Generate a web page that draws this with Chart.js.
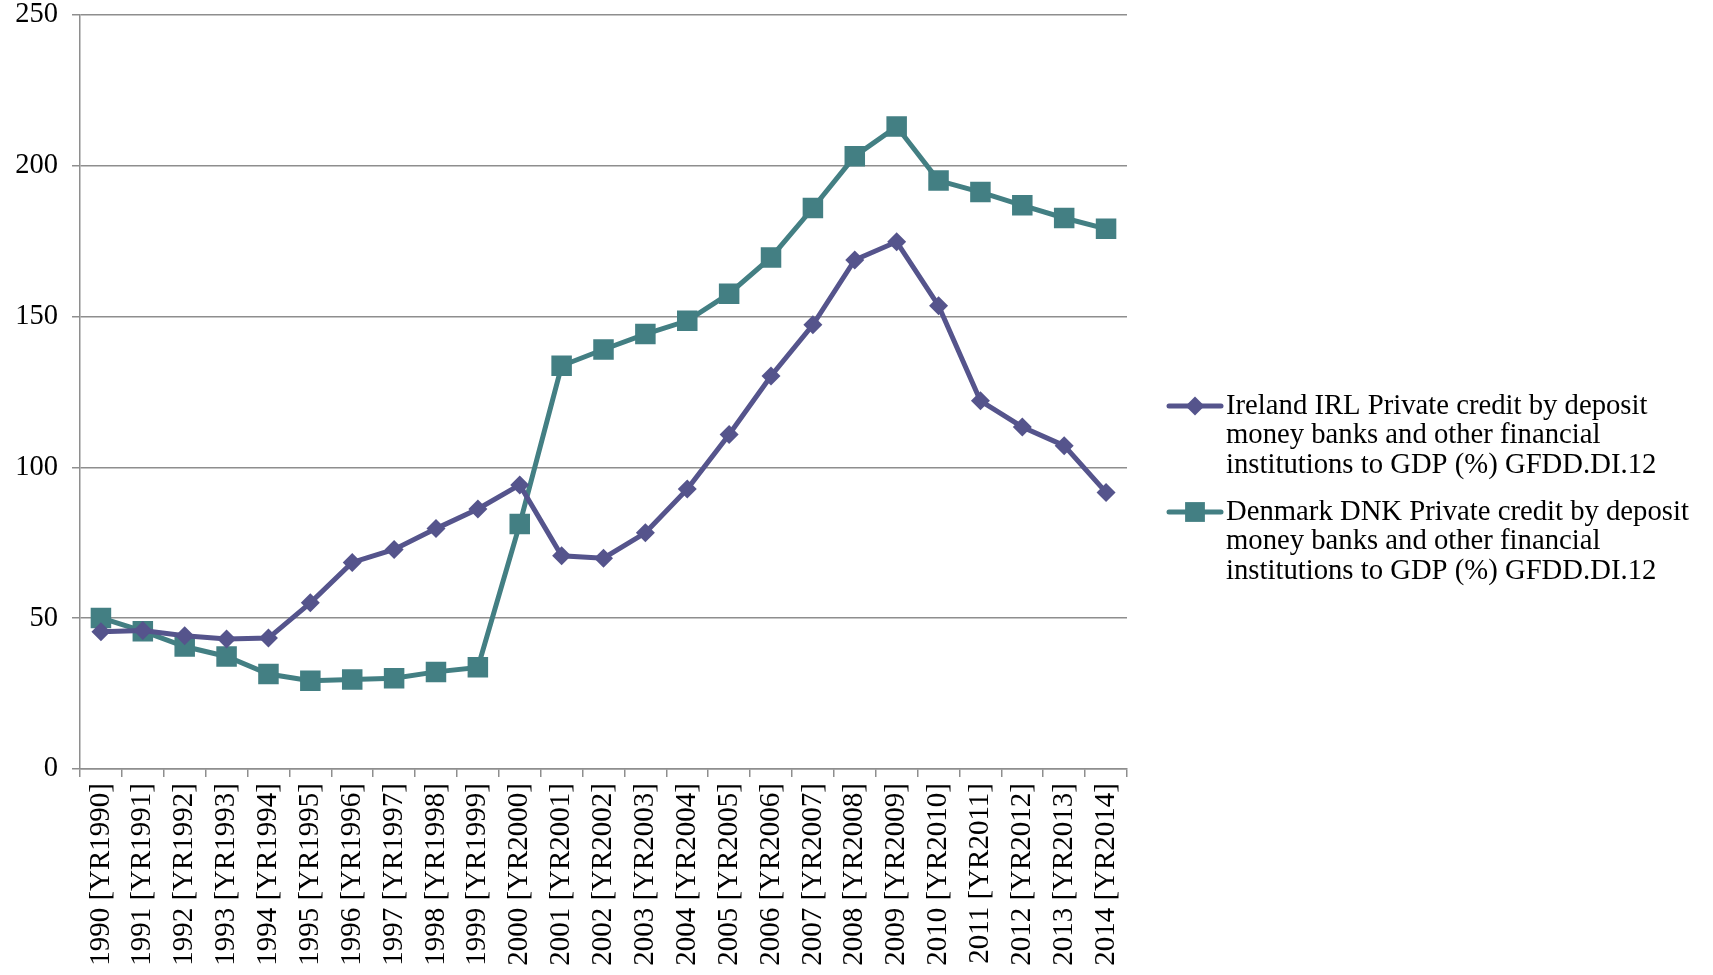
<!DOCTYPE html>
<html>
<head>
<meta charset="utf-8">
<script src="https://cdn.jsdelivr.net/npm/chart.js@4"></script>
<style>
  html, body { margin: 0; padding: 0; background: #fff; }
  #wrap { width: 1713px; height: 975px; }
</style>
</head>
<body>
<div id="wrap"><canvas id="myChart" width="1713" height="975"></canvas></div>
<script>
var years = ["1990", "1991", "1992", "1993", "1994", "1995", "1996", "1997", "1998", "1999", "2000", "2001",
  "2002", "2003", "2004", "2005", "2006", "2007", "2008", "2009", "2010", "2011", "2012", "2013", "2014"];
var labels = years.map(function (y) { return y + " [YR" + y + "]"; });

var ireland = [45.5, 45.9, 44.2, 43.1, 43.4, 55.1, 68.5, 72.8, 79.7, 86.2, 94.2, 70.7, 69.9,
  78.3, 92.8, 110.9, 130.3, 147.3, 168.8, 174.8, 153.6, 122.1, 113.4, 107.2, 91.7];
var denmark = [50.1, 45.7, 40.6, 37.3, 31.5, 29.3, 29.7, 30.1, 32.2, 33.7, 81.2, 133.7, 139.1,
  144.2, 148.6, 157.6, 169.6, 186.0, 203.2, 213.0, 195.1, 191.3, 186.9, 182.7, 179.1];

var yTicks = [0, 50, 100, 150, 200, 250];

var irelandLegend = ["Ireland IRL Private credit by deposit", "money banks and other financial", "institutions to GDP (%) GFDD.DI.12"];
var denmarkLegend = ["Denmark DNK Private credit by deposit", "money banks and other financial", "institutions to GDP (%) GFDD.DI.12"];

var purple = "#55548c";
var teal = "#437f83";
var gridGray = "#8e8e8e";
var fontFam = "'Liberation Serif', 'Times New Roman', serif";

// legend on the right, line with marker in the middle
var sideLegend = {
  id: "sideLegend",
  afterDraw: function (chart) {
    var ctx = chart.ctx;
    var items = [
      { lines: irelandLegend, color: purple, style: "rectRot", r: 9.5, y: 406 },
      { lines: denmarkLegend, color: teal, style: "rect", r: 14, y: 512 }
    ];
    ctx.save();
    items.forEach(function (it) {
      ctx.strokeStyle = it.color;
      ctx.lineWidth = 5;
      ctx.lineCap = "round";
      ctx.beginPath();
      ctx.moveTo(1169, it.y);
      ctx.lineTo(1221, it.y);
      ctx.stroke();
      ctx.fillStyle = it.color;
      Chart.helpers.drawPoint(ctx, { pointStyle: it.style, radius: it.r, borderWidth: 0 }, 1195, it.y);
      ctx.fillStyle = "#000";
      ctx.font = "28.7px " + fontFam;
      ctx.textBaseline = "middle";
      ctx.textAlign = "left";
      it.lines.forEach(function (t, i) {
        ctx.fillText(t, 1226, it.y + i * 29.8);
      });
    });
    ctx.restore();
  }
};

var ctx = document.getElementById("myChart");
var myLineChart = new Chart(ctx, {
  type: "line",
  data: {
    labels: labels,
    datasets: [
      {
        label: irelandLegend.join(" "),
        data: ireland,
        borderColor: purple,
        backgroundColor: purple,
        borderWidth: 5,
        pointStyle: "rectRot",
        pointRadius: 9.5,
        pointBorderWidth: 0,
        pointBackgroundColor: purple,
        tension: 0,
        fill: false
      },
      {
        label: denmarkLegend.join(" "),
        data: denmark,
        borderColor: teal,
        backgroundColor: teal,
        borderWidth: 5,
        pointStyle: "rect",
        pointRadius: 14.5,
        pointBorderWidth: 0,
        pointBackgroundColor: teal,
        tension: 0,
        fill: false
      }
    ]
  },
  options: {
    responsive: false,
    animation: false,
    devicePixelRatio: 1,
    layout: { autoPadding: false, padding: { top: 0, right: 586, left: 0, bottom: 0 } },
    plugins: {
      legend: { display: false },
      tooltip: { enabled: false }
    },
    scales: {
      x: {
        offset: true,
        grid: { offset: true, drawOnChartArea: false, color: gridGray, lineWidth: 1.5, tickLength: 8 },
        border: { color: gridGray, width: 1.5 },
        ticks: {
          color: "#000",
          font: { family: fontFam, size: 29 },
          minRotation: 90,
          maxRotation: 90,
          autoSkip: false,
          padding: 6
        },
        afterFit: function (scale) { scale.height = 206; }
      },
      y: {
        min: 0,
        max: 250,
        afterBuildTicks: function (scale) {
          scale.ticks = yTicks.map(function (v) { return { value: v }; });
        },
        grid: { color: gridGray, lineWidth: 1.5, tickLength: 8 },
        border: { color: gridGray, width: 1.5 },
        ticks: {
          color: "#000",
          font: { family: fontFam, size: 28.5 },
          padding: 14
        },
        afterFit: function (scale) {
          scale.width = 80;
          scale.paddingTop = 15;
          scale.paddingBottom = 0;
        }
      }
    }
  },
  plugins: [sideLegend]
});
</script>
</body>
</html>
